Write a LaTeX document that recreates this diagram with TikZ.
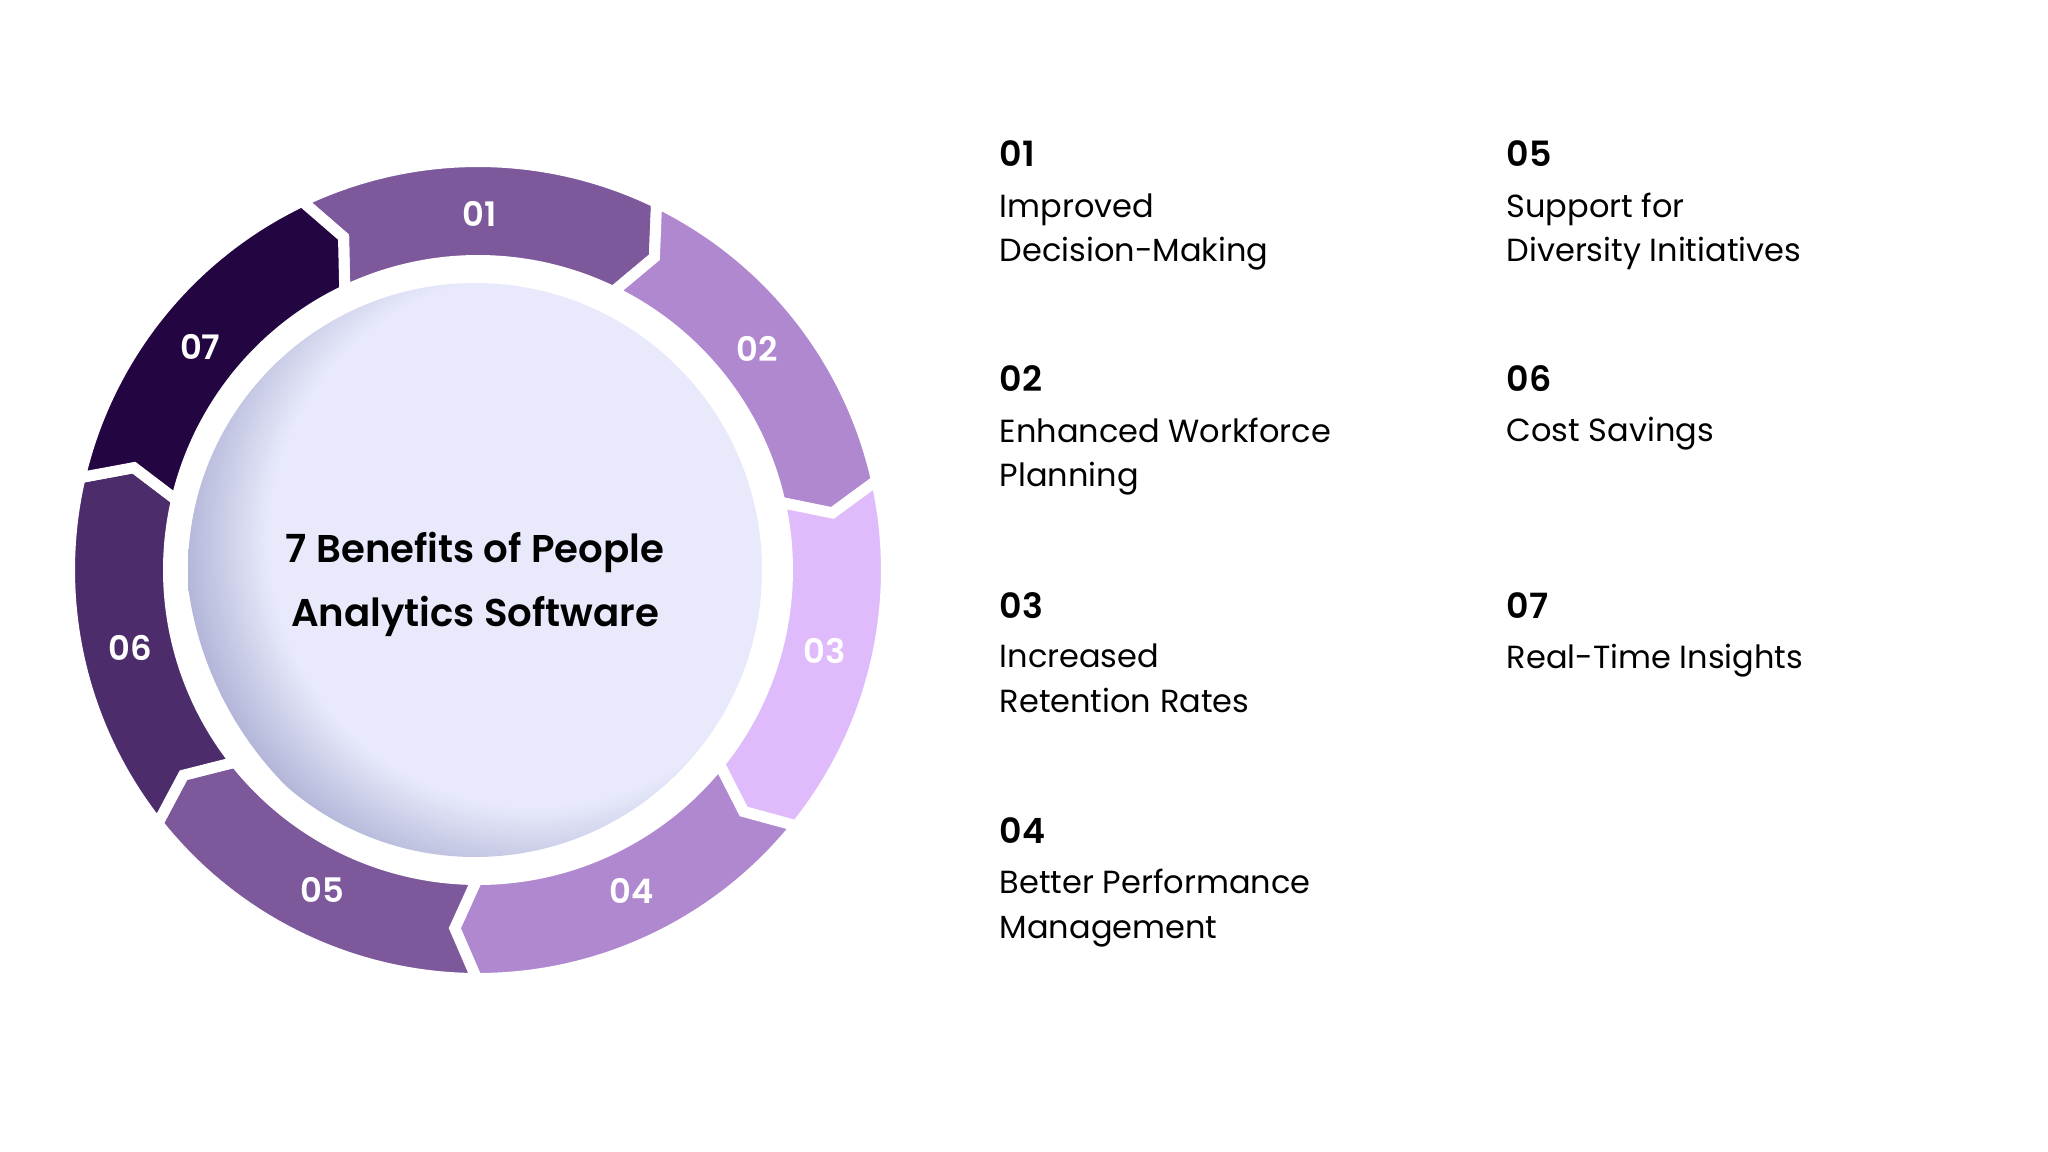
\documentclass[tikz,border=0pt]{standalone}
\usepackage{fontspec}
\setmainfont{Poppins}[BoldFont={Poppins SemiBold}]
\usepackage{tikz}
\usetikzlibrary{positioning}
\definecolor{segmid}{HTML}{7D589B}
\definecolor{seglight}{HTML}{B088D0}
\definecolor{segpale}{HTML}{E0BBFB}
\definecolor{segdark}{HTML}{4C2C6B}
\definecolor{segdeep}{HTML}{230542}
\definecolor{disklight}{HTML}{E8EAFB}
\definecolor{diskdark}{HTML}{B3B6D8}
\pgfdeclareradialshading{diskshade}{\pgfpoint{0bp}{0bp}}{color(0bp)=(disklight); color(19bp)=(disklight); color(25bp)=(diskdark); color(50bp)=(diskdark)}
\newcommand{\segout}{408.5}
\newcommand{\segin}{309.5}
\newcommand{\segmid}{359}
% one chevron piece of the ring: start angle, fill colour
\newcommand{\benefitseg}[2]{%
  \path[fill=#2, ringseg] ({#1}:\segout) arc[start angle={#1}, end angle={#1-51.43}, radius=\segout]
    -- ({#1-51.43-3.5}:\segmid) -- ({#1-51.43}:\segin)
    arc[start angle={#1-51.43}, end angle={#1}, radius=\segin]
    -- ({#1-3.5}:\segmid) -- cycle;}
\tikzset{
  ringseg/.style={draw=white, line width=3.13pt, line join=miter},
  segnum/.style={font=\fontsize{9.6}{11}\selectfont\bfseries, text=white, inner sep=0pt},
  headnum/.style={anchor=base west, font=\fontsize{9.9}{11}\selectfont\bfseries, inner sep=0pt},
  benefit/.style={anchor=base west, align=left, font=\fontsize{9.1}{12.66}\selectfont, inner sep=0pt},
  centertitle/.style={align=center, font=\fontsize{11}{18.2}\selectfont\bfseries, inner sep=0pt},
}
\begin{document}
\begin{tikzpicture}[x=0.01cm, y=0.01cm]
  \useasboundingbox (0,0) rectangle (2048,-1152);
  % inner disc
  \begin{scope}
    \clip (475,-570) circle[radius=287];
    \shade[shading=diskshade] (535,-540) circle[radius=350];
  \end{scope}
  \node[centertitle] (title) at (475,-584) {7 Benefits of People\\Analytics Software};
  % ring
  \begin{scope}[shift={(478,-570)}]
    \benefitseg{115.5}{segmid}
    \benefitseg{64.07}{seglight}
    \benefitseg{12.64}{segpale}
    \benefitseg{-38.79}{seglight}
    \benefitseg{-90.21}{segmid}
    \benefitseg{-141.64}{segdark}
    \benefitseg{-193.07}{segdeep}
    \node[segnum] (n1) at (89.8:356) {01};
    \node[segnum] (n2) at (38.4:356) {02};
    \node[segnum] (n3) at (-13.1:356) {03};
    \node[segnum] (n4) at (-64.5:356) {04};
    \node[segnum] (n5) at (-115.9:356) {05};
    \node[segnum] (n6) at (-167.4:356) {06};
    \node[segnum] (n7) at (141.3:356) {07};
  \end{scope}
  % list of benefits (two-line texts sit on their last line)
  \node[headnum] (h1) at (999,-167) {01};
  \node[benefit] (b1) at (999,-262) {Improved\\Decision-Making};
  \node[headnum] (h2) at (999,-392) {02};
  \node[benefit] (b2) at (999,-487) {Enhanced Workforce\\Planning};
  \node[headnum] (h3) at (999,-618) {03};
  \node[benefit] (b3) at (999,-712.5) {Increased\\Retention Rates};
  \node[headnum] (h4) at (999,-843) {04};
  \node[benefit] (b4) at (999,-938.5) {Better Performance\\Management};
  \node[headnum] (h5) at (1506,-167) {05};
  \node[benefit] (b5) at (1506,-262) {Support for\\Diversity Initiatives};
  \node[headnum] (h6) at (1506,-392) {06};
  \node[benefit] (b6) at (1506,-442) {Cost Savings};
  \node[headnum] (h7) at (1506,-618) {07};
  \node[benefit] (b7) at (1506,-668) {Real-Time Insights};
\end{tikzpicture}
\end{document}
